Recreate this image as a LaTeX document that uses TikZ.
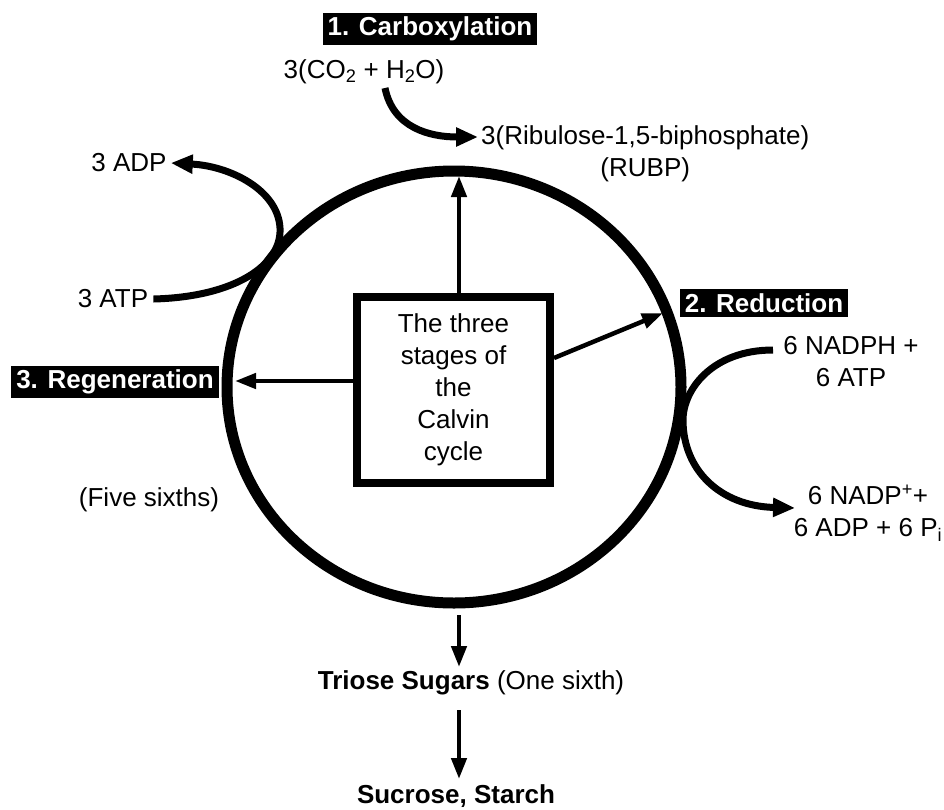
\documentclass[tikz,border=0pt]{standalone}
\usepackage{fontspec}
\setmainfont{Liberation Sans}
\usetikzlibrary{arrows.meta,calc}
\begin{document}
\begin{tikzpicture}[x=1pt,y=-1pt,
  txt/.style={font=\fontsize{26}{32}\selectfont, inner sep=0pt, align=center},
  lab/.style={fill=black, text=white, font=\fontsize{26}{31}\selectfont\bfseries, inner xsep=5pt, inner ysep=4pt},
  thinarr/.style={line width=4.5pt, -{Triangle[length=21pt,width=15pt]}},
  curvarr/.style={line width=7pt, -{Triangle[length=22pt,width=18pt]}},
  ring/.style={line width=11pt},
  stagebox/.style={draw, line width=8pt, minimum width=193pt, minimum height=186pt, txt},
  ]
\useasboundingbox (0,0) rectangle (944,809);
% cycle ring
\draw[ring] (454,387) ellipse [x radius=227pt, y radius=216pt];
% centre box
\node[stagebox] (box) at (453.5,390) {The three\\stages of\\the\\Calvin\\cycle};
% coordinates on ring
\coordinate (ctop) at (459,176);
\coordinate (cleft) at (235,381);
\coordinate (cright) at (663,313);
\coordinate (rstart) at (554,358);
\draw[thinarr] (box.north -| ctop) -- (ctop);
\draw[thinarr] (box.west |- cleft) -- (cleft);
\draw[thinarr] (box.east |- rstart) -- (cright);
% labels
\node[lab] (carb) at (430,29) {1. Carboxylation};
\node[lab] (red) at (764,303) {2. Reduction};
\node[lab] (regen) at (115,382) {3. Regeneration};
% carboxylation
\node[txt] (co2) at (364,72) {3(CO\textsubscript{2} + H\textsubscript{2}O)};
\node[txt, anchor=west] (rubp) at (481,154) {3(Ribulose-1,5-biphosphate)\\(RUBP)};
\coordinate (co2s) at (385,88);
\coordinate (rubpw) at (478,137);
\draw[curvarr] (co2s) .. controls (393,128) and (430,137) .. (rubpw);
% ATP / ADP
\node[txt] (adp) at (129,163) {3 ADP};
\node[txt] (atp) at (113,299) {3 ATP};
\draw[curvarr] ([xshift=5pt]atp.east) .. controls (235,297) and (282,265) .. (280,228)
   .. controls (278,190) and (230,166) .. ([xshift=4pt]adp.east);
% reduction
\node[txt] (nadph) at (851,362) {6 NADPH +\\6 ATP};
\node[txt] (nadp) at (868,513) {6 NADP\textsuperscript{+}+\\6 ADP + 6 P\textsubscript{i}};
\coordinate (nadphw) at (773,350);
\coordinate (nadpw) at (795,508);
\draw[curvarr] (nadphw) .. controls (712,350) and (683,390) .. (683,420)
   .. controls (683,470) and (720,506) .. (nadpw);
% regeneration
\node[txt] (five) at (149,500) {(Five sixths)};
% outputs
\node[txt] (triose) at (471,683) {\textbf{Triose Sugars} (One sixth)};
\node[txt, font=\fontsize{26}{31}\selectfont\bfseries] (suc) at (456,796) {Sucrose, Starch};
\coordinate (b1) at (459,615);
\coordinate (b2) at (459,667);
\coordinate (b3) at (459,710);
\coordinate (b4) at (459,779);
\draw[thinarr] (b1) -- (b2);
\draw[thinarr] (b3) -- (b4);
\end{tikzpicture}
\end{document}
